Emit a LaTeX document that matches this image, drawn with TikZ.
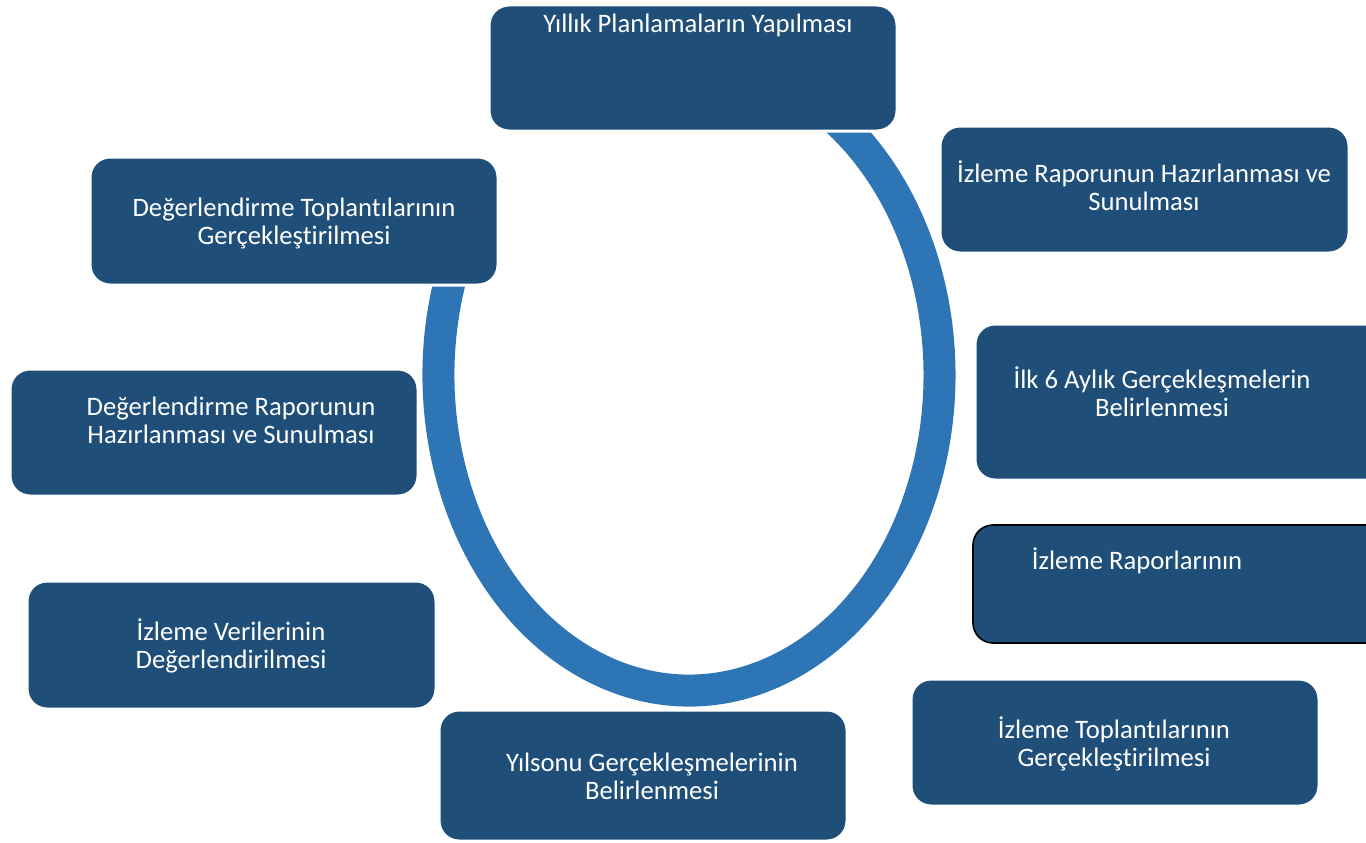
\documentclass[tikz,border=0pt]{standalone}
\usepackage{fontspec}
\setmainfont{Carlito}[Ligatures={NoCommon}]
\definecolor{boxblue}{RGB}{31,78,121}
\definecolor{ringblue}{RGB}{46,117,182}
\tikzset{
  box/.style={rounded corners=15pt, fill=boxblue, draw=white, line width=2.25pt, inner sep=0pt, outer sep=0pt},
  lbl/.style={text=white, align=center, inner sep=0pt, anchor=base, font=\fontsize{20}{21}\selectfont},
  ring/.style={draw=ringblue, line width=24pt}
}
\begin{document}
\begin{tikzpicture}[x=0.75pt,y=0.75pt,yscale=-1,xscale=1]
\clip (0,0) rectangle (1366,842);
\fill[white] (0,0) rectangle (1366,842);

%Shape: Arc (ring)
\draw [ring] ([shift={(200:250.5 and 315.5)}]689,375) arc [start angle=200, end angle=-58, x radius=250.5, y radius=315.5];

%Shape: Boxes
\node [box, minimum width=306pt, minimum height=94.5pt] (plan) at (693,68) {};
\node [box, minimum width=306.75pt, minimum height=95.25pt] (izrapor) at (1144.5,189.5) {};
\node [box, minimum width=318.75pt, minimum height=117pt] (ilk6) at (1187.5,402) {};
\node [box, draw=black, line width=1.2pt, minimum width=320.25pt, minimum height=88.5pt] (izraporlar) at (1186.5,584) {};
\node [box, minimum width=306pt, minimum height=95.25pt] (iztop) at (1115,742.5) {};
\node [box, minimum width=306pt, minimum height=98.25pt] (yilsonu) at (643,775.5) {};
\node [box, minimum width=306.75pt, minimum height=96pt] (izveri) at (231.5,645) {};
\node [box, minimum width=306pt, minimum height=95.25pt] (degrapor) at (214,432.5) {};
\node [box, minimum width=306pt, minimum height=96pt] (degtop) at (294,221) {};

% Text Node
\node [lbl] (plan-t) at (698,33) {Yıllık Planlamaların Yapılması};
% Text Node
\node [lbl] (izrapor-t) at (1144,210) {İzleme Raporunun Hazırlanması ve\\Sunulması};
% Text Node
\node [lbl] (ilk6-t) at (1162,416) {İlk 6 Aylık Gerçekleşmelerin\\Belirlenmesi};
% Text Node
\node [lbl] (izraporlar-t) at (1137,569) {İzleme Raporlarının};
% Text Node
\node [lbl] (iztop-t) at (1114,766) {İzleme Toplantılarının\\Gerçekleştirilmesi};
% Text Node
\node [lbl] (yilsonu-t) at (652,799) {Yılsonu Gerçekleşmelerinin\\Belirlenmesi};
% Text Node
\node [lbl] (izveri-t) at (231,668) {İzleme Verilerinin\\Değerlendirilmesi};
% Text Node
\node [lbl] (degrapor-t) at (231,443) {Değerlendirme Raporunun\\Hazırlanması ve Sunulması};
% Text Node
\node [lbl] (degtop-t) at (294,244) {Değerlendirme Toplantılarının\\Gerçekleştirilmesi};

\end{tikzpicture}
\end{document}
